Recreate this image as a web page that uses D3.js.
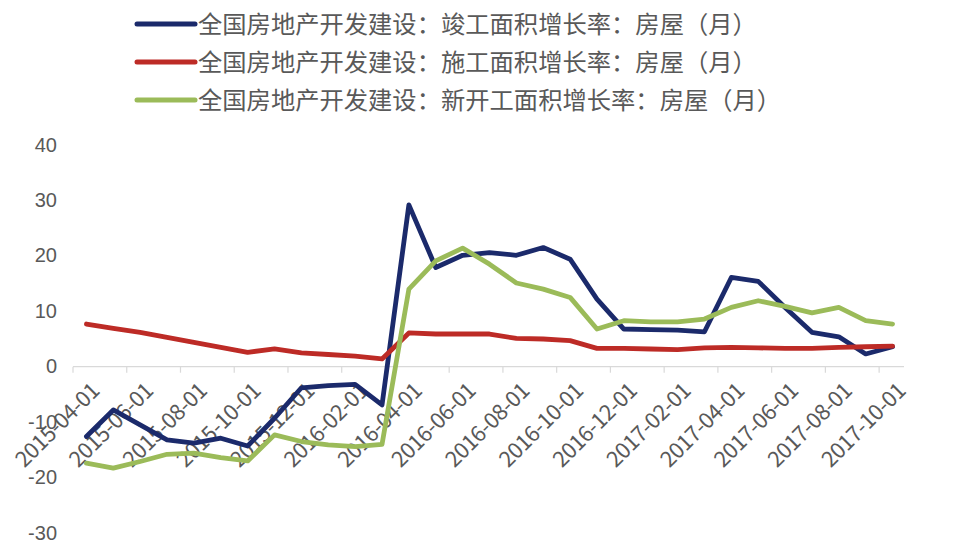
<!DOCTYPE html>
<html>
<head>
<meta charset="utf-8">
<script src="https://d3js.org/d3.v7.min.js"></script>
<style>
  html, body { margin: 0; padding: 0; background: #fff; }
  svg text { font-family: "Noto Sans CJK SC", "Liberation Sans", sans-serif; fill: #595959; }
</style>
</head>
<body>
<svg id="chart" width="966" height="544"></svg>
<script>
// monthly categories 2015-04 .. 2017-10
const months = [
  "2015-04-01","2015-05-01","2015-06-01","2015-07-01","2015-08-01","2015-09-01",
  "2015-10-01","2015-11-01","2015-12-01","2016-01-01","2016-02-01","2016-03-01",
  "2016-04-01","2016-05-01","2016-06-01","2016-07-01","2016-08-01","2016-09-01",
  "2016-10-01","2016-11-01","2016-12-01","2017-01-01","2017-02-01","2017-03-01",
  "2017-04-01","2017-05-01","2017-06-01","2017-07-01","2017-08-01","2017-09-01",
  "2017-10-01"
];

const completed = [
  -12.6, -7.8, -10.5, -13.2, -13.8, -12.9, -14.3, -9.3, -3.8, -3.4, -3.2, -6.9,
  29.2, 17.9, 20.1, 20.6, 20.1, 21.5, 19.4, 12.2, 6.8, 6.7, 6.6, 6.3,
  16.1, 15.4, 10.7, 6.2, 5.4, 2.3, 3.6
];
const underConstruction = [
  7.7, 6.9, 6.2, 5.3, 4.4, 3.5, 2.6, 3.2, 2.5, 2.2, 1.9, 1.4,
  6.1, 5.9, 5.9, 5.9, 5.1, 5.0, 4.7, 3.3, 3.3, 3.2, 3.1, 3.4,
  3.5, 3.4, 3.3, 3.3, 3.5, 3.6, 3.7
];
const newStarts = [
  -17.4, -18.3, -17.1, -15.8, -15.6, -16.4, -17.0, -12.3, -13.5, -14.1, -14.4, -14.0,
  14.0, 19.1, 21.4, 18.5, 15.1, 14.0, 12.5, 6.8, 8.3, 8.1, 8.1, 8.6,
  10.7, 11.9, 10.9, 9.7, 10.7, 8.3, 7.7
];

const seriesNames = [
  "全国房地产开发建设：竣工面积增长率：房屋（月）",
  "全国房地产开发建设：施工面积增长率：房屋（月）",
  "全国房地产开发建设：新开工面积增长率：房屋（月）"
];
const seriesColors = ["#1b2a6b", "#bd2b26", "#9bbb59"];
const yTicks = [40, 30, 20, 10, 0, -10, -20, -30];

const series = [completed, underConstruction, newStarts].map((vals, k) => ({
  name: seriesNames[k],
  color: seriesColors[k],
  values: vals.map((v, i) => ({ month: months[i], value: v }))
}));

const svg = d3.select("#chart");

const x = d3.scaleBand()
  .domain(months)
  .range([73, 906])
  .padding(0);

const y = d3.scaleLinear()
  .domain([-30, 40])
  .range([533, 145]);

// y labels (no axis line, no grid)
svg.append("g")
  .selectAll("text")
  .data(yTicks)
  .join("text")
  .attr("x", 57)
  .attr("y", d => y(d))
  .attr("dy", "0.33em")
  .attr("text-anchor", "end")
  .style("font-family", "'Liberation Sans', sans-serif")
  .style("font-size", "20px")
  .text(d => d);

// x axis at zero
const xAxis = svg.append("g").attr("transform", `translate(0,${y(0)})`);
xAxis.append("line")
  .attr("x1", 73).attr("x2", 904)
  .attr("stroke", "#d9d9d9").attr("stroke-width", 1.2);

const labelMonths = months.filter((d, i) => i % 2 === 0);

xAxis.selectAll("line.tick")
  .data(labelMonths)
  .join("line")
  .attr("class", "tick")
  .attr("x1", d => x(d)).attr("x2", d => x(d))
  .attr("y1", 0).attr("y2", 6)
  .attr("stroke", "#d9d9d9").attr("stroke-width", 1.2);

// lines
const line = d3.line()
  .x(d => x(d.month) + x.bandwidth() / 2)
  .y(d => y(d.value));

svg.append("g")
  .selectAll("path")
  .data(series)
  .join("path")
  .attr("d", d => line(d.values))
  .attr("fill", "none")
  .attr("stroke", d => d.color)
  .attr("stroke-width", 4.8)
  .attr("stroke-linejoin", "round")
  .attr("stroke-linecap", "round");

// rotated month labels, drawn over the lines like the original
xAxis.selectAll("text")
  .data(labelMonths)
  .join("text")
  .attr("transform", d => `translate(${x(d) + x.bandwidth() / 2 + 9},20) rotate(-45)`)
  .attr("text-anchor", "end")
  .attr("dy", "0.35em")
  .style("font-size", "22px")
  .style("letter-spacing", "-0.5px")
  .text(d => d);

// legend
const legend = svg.append("g")
  .selectAll("g")
  .data(series)
  .join("g")
  .attr("transform", (d, i) => `translate(0,${24 + i * 38})`);

legend.append("line")
  .attr("x1", 137).attr("x2", 195)
  .attr("stroke", d => d.color)
  .attr("stroke-width", 5)
  .attr("stroke-linecap", "round");

legend.append("text")
  .attr("x", 198)
  .attr("dy", "0.36em")
  .style("font-size", "24.3px")
  .text(d => d.name);
</script>
</body>
</html>
